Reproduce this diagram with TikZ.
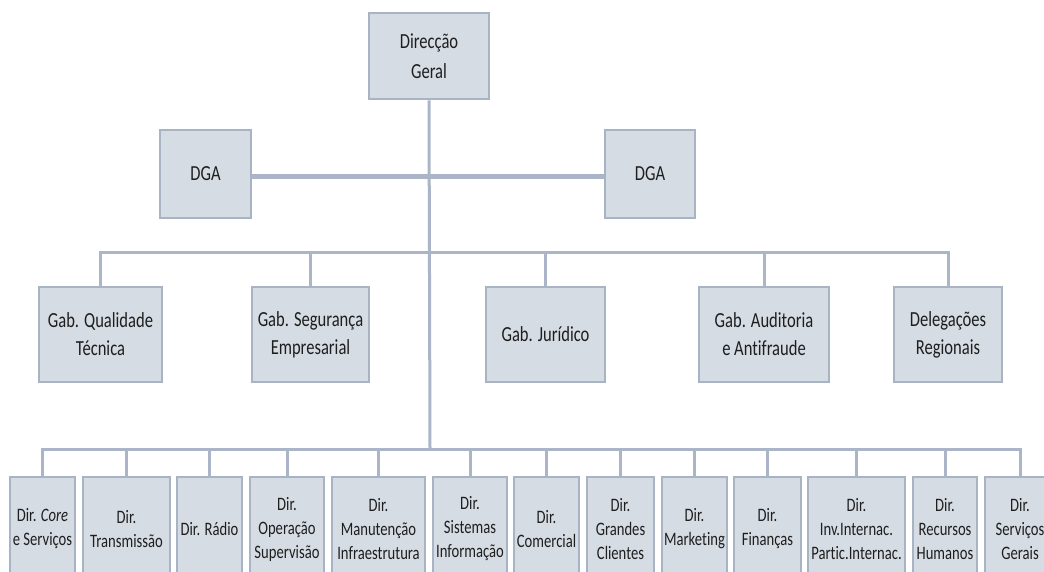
\documentclass[tikz,border=0pt]{standalone}
\usepackage{fontspec}
\setmainfont[FakeStretch=0.77,Ligatures=NoCommon]{Carlito}
\definecolor{boxfill}{RGB}{214,220,228}
\definecolor{boxline}{RGB}{168,179,196}
\definecolor{conn}{RGB}{170,182,200}
\definecolor{txt}{RGB}{30,30,30}
\begin{document}
\begin{tikzpicture}[x=1pt,y=-1pt,
  orgbox/.style={draw=boxline, line width=2.6pt, fill=boxfill, align=center, inner sep=0pt, text=txt},
  topfont/.style={font=\fontsize{21.5}{30}\selectfont},
  midfont/.style={font=\fontsize{21.5}{28}\selectfont},
  lowfont/.style={font=\fontsize{19}{24}\selectfont},
  link/.style={draw=conn, line width=3pt},
  thicklink/.style={draw=conn, line width=5pt}]
\useasboundingbox (0,0) rectangle (1044,572);
\fill[white] (0,0) rectangle (1044,572);
% coordinates of buses
\coordinate (bus2) at (430,252);
\coordinate (bus3) at (430,449);
% top
\node[orgbox, topfont, minimum width=120pt, minimum height=86pt] (top) at (429,56) {Direcção\\Geral};
\node[orgbox, topfont, minimum width=91pt, minimum height=88pt] (dgal) at (205.5,174) {DGA};
\node[orgbox, topfont, minimum width=90pt, minimum height=88pt] (dgar) at (650,174) {DGA};
% middle
\node[orgbox, midfont, minimum width=123pt, minimum height=95pt] (m1) at (100.5,334.5) {Gab. Qualidade\\Técnica};
\node[orgbox, midfont, minimum width=117pt, minimum height=95pt] (m2) at (310.5,334.5) {Gab. Segurança\\Empresarial};
\node[orgbox, midfont, minimum width=119pt, minimum height=95pt] (m3) at (545.5,334.5) {Gab. Jurídico};
\node[orgbox, midfont, minimum width=130pt, minimum height=95pt] (m4) at (764,334.5) {Gab. Auditoria\\e Antifraude};
\node[orgbox, midfont, minimum width=108pt, minimum height=95pt] (m5) at (948,334.5) {Delegações\\Regionais};
% bottom
\node[orgbox, lowfont, minimum width=65pt, minimum height=104pt] (b1) at (42.5,529) {Dir. \textit{Core}\\e Serviços};
\node[orgbox, lowfont, minimum width=87pt, minimum height=104pt] (b2) at (126.5,529) {Dir.\\Transmissão};
\node[orgbox, lowfont, minimum width=65pt, minimum height=104pt] (b3) at (209.5,529) {Dir. Rádio};
\node[orgbox, lowfont, minimum width=74pt, minimum height=104pt] (b4) at (287,529) {Dir.\\Operação\\Supervisão};
\node[orgbox, lowfont, minimum width=93pt, minimum height=104pt] (b5) at (378.5,529) {Dir.\\Manutenção\\Infraestrutura};
\node[orgbox, lowfont, minimum width=74pt, minimum height=104pt] (b6) at (470,529) {Dir.\\Sistemas\\Informação};
\node[orgbox, lowfont, minimum width=65pt, minimum height=104pt] (b7) at (546.5,529) {Dir.\\Comercial};
\node[orgbox, lowfont, minimum width=67pt, minimum height=104pt] (b8) at (620.5,529) {Dir.\\Grandes\\Clientes};
\node[orgbox, lowfont, minimum width=65pt, minimum height=104pt] (b9) at (694.5,529) {Dir.\\Marketing};
\node[orgbox, lowfont, minimum width=67pt, minimum height=104pt] (b10) at (767.5,529) {Dir.\\Finanças};
\node[orgbox, lowfont, minimum width=97pt, minimum height=104pt] (b11) at (856.5,529) {Dir.\\Inv.Internac.\\Partic.Internac.};
\node[orgbox, lowfont, minimum width=64pt, minimum height=104pt] (b12) at (945,529) {Dir.\\Recursos\\Humanos};
\node[orgbox, lowfont, minimum width=70pt, minimum height=104pt] (b13) at (1020,529) {Dir.\\Serviços\\Gerais};
% connectors
\path[link] (top.south) -- (bus3);
\path[thicklink] ([yshift=-3pt]dgal.east) -- ([yshift=-3pt]dgar.west);
\path[link] (m1.north) -- (m1.north |- bus2) -- (m5.north |- bus2) -- (m5.north);
\foreach \n in {m2,m3,m4} { \path[link] (\n.north) -- (\n.north |- bus2); }
\path[link] (b1.north) -- (b1.north |- bus3) -- (b13.north |- bus3) -- (b13.north);
\foreach \n in {b2,b3,b4,b5,b6,b7,b8,b9,b10,b11,b12} { \path[link] (\n.north) -- (\n.north |- bus3); }
\end{tikzpicture}
\end{document}
